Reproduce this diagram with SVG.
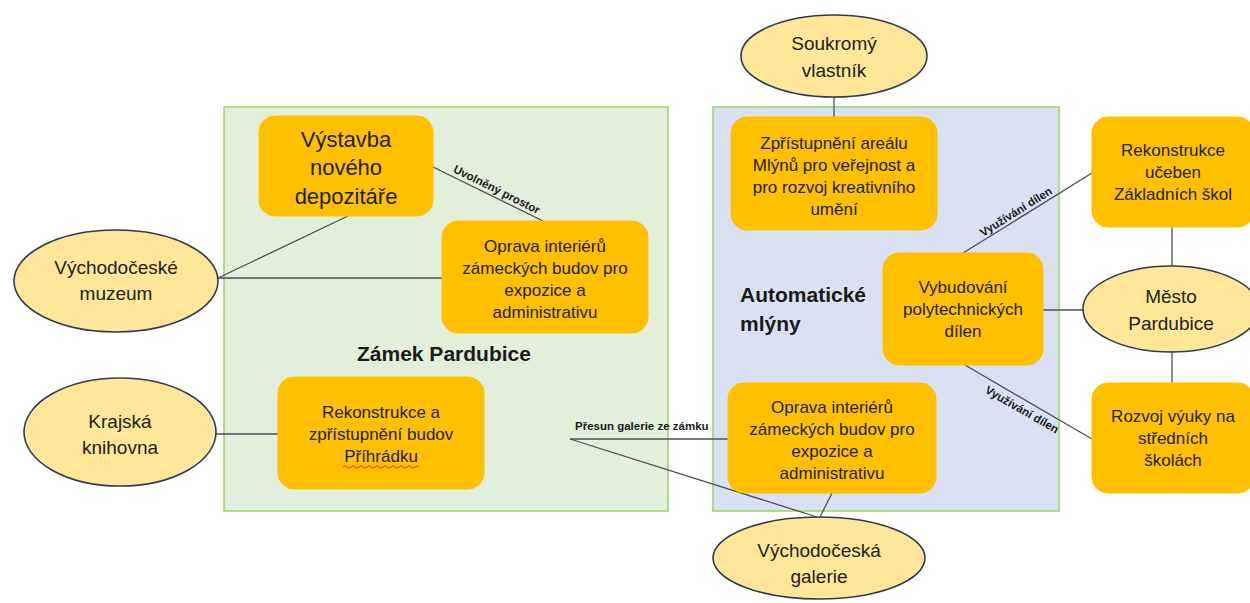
<svg xmlns="http://www.w3.org/2000/svg" width="1250" height="603" viewBox="0 0 1250 603">
<style>
.bg{fill:#ffffff}
.zone-g{fill:#E2EFDA;stroke:#9BD36A;stroke-width:1.5}
.zone-b{fill:#D9E1F2;stroke:#9BD36A;stroke-width:1.5}
.box{fill:#FFC000;stroke:#FFC000;stroke-width:1}
.ell{fill:#FFE699;stroke:#2F3A4F;stroke-width:1.6}
.t{font-family:"Liberation Sans",Arial,sans-serif;font-size:17px;fill:#222222;text-anchor:middle}
.te{font-family:"Liberation Sans",Arial,sans-serif;font-size:19px;fill:#222222;text-anchor:middle}
.tb{font-family:"Liberation Sans",Arial,sans-serif;font-size:22px;fill:#222222;text-anchor:middle}
.title{font-family:"Liberation Sans",Arial,sans-serif;font-size:21px;font-weight:bold;fill:#1a1a1a}
.lbl{font-family:"Liberation Sans",Arial,sans-serif;font-size:11.5px;font-weight:bold;fill:#1a1a1a}
.c{stroke:#4a4f55;stroke-width:1.3;fill:none}
</style>
<rect class="bg" x="0" y="0" width="1250" height="603"/>
<g id="zamek-pardubice">
<rect class="zone-g" x="224" y="107" width="444" height="404"/>
<text class="title" x="357" y="361">Zámek Pardubice</text>
</g>
<g id="automaticke-mlyny">
<rect class="zone-b" x="713" y="107" width="346" height="404"/>
<text class="title" x="740" y="302">Automatické</text>
<text class="title" x="740" y="331">mlýny</text>
</g>
<g id="connectors">
<line class="c" x1="348" y1="216" x2="218" y2="278"/>
<line class="c" x1="218" y1="278" x2="442" y2="278"/>
<line class="c" x1="433" y1="167" x2="543" y2="221"/>
<line class="c" x1="216" y1="434" x2="278" y2="434"/>
<line class="c" x1="570" y1="439" x2="728" y2="439"/>
<line class="c" x1="570" y1="439" x2="817" y2="517"/>
<line class="c" x1="832" y1="493" x2="820" y2="517"/>
<line class="c" x1="834" y1="97" x2="834" y2="117"/>
<line class="c" x1="963" y1="253" x2="1092" y2="173"/>
<line class="c" x1="965" y1="365" x2="1092" y2="439"/>
<line class="c" x1="1043" y1="310" x2="1084" y2="310"/>
<line class="c" x1="1172" y1="227" x2="1172" y2="266"/>
<line class="c" x1="1172" y1="352" x2="1172" y2="383"/>
<text class="lbl" text-anchor="middle" x="495" y="193" transform="rotate(26.6 495 193)">Uvolněný prostor</text>
<text class="lbl" x="575" y="430">Přesun galerie ze zámku</text>
<text class="lbl" text-anchor="middle" x="1018" y="215" transform="rotate(-32 1018 215)">Využívání dílen</text>
<text class="lbl" text-anchor="middle" x="1020" y="413" transform="rotate(30 1020 413)">Využívání dílen</text>
</g>
<g id="vystavba">
<rect class="box" x="259" y="116" width="174" height="100" rx="16"/>
<text class="tb" x="346" y="147">Výstavba</text>
<text class="tb" x="346" y="175">nového</text>
<text class="tb" x="346" y="204">depozitáře</text>
</g>
<g id="oprava-zamek">
<rect class="box" x="442" y="221" width="206" height="112" rx="16"/>
<text class="t" x="545" y="252">Oprava interiérů</text>
<text class="t" x="545" y="274">zámeckých budov pro</text>
<text class="t" x="545" y="296">expozice a</text>
<text class="t" x="545" y="318">administrativu</text>
</g>
<g id="prihradek">
<rect class="box" x="278" y="377" width="206" height="112" rx="16"/>
<text class="t" x="381" y="418">Rekonstrukce a</text>
<text class="t" x="381" y="440">zpřístupnění budov</text>
<text class="t" x="381" y="462">Příhrádku</text>
<path d="M343 467 q2 -2 4 0 t4 0 t4 0 t4 0 t4 0 t4 0 t4 0 t4 0 t4 0 t4 0 t4 0 t4 0 t4 0 t4 0 t4 0 t4 0 t4 0 t4 0 t4 0" fill="none" stroke="#E03030" stroke-width="1"/>
</g>
<g id="zpristupneni">
<rect class="box" x="731" y="117" width="206" height="113" rx="16"/>
<text class="t" x="834" y="149">Zpřístupnění areálu</text>
<text class="t" x="834" y="171">Mlýnů pro veřejnost a</text>
<text class="t" x="834" y="193">pro rozvoj kreativního</text>
<text class="t" x="834" y="215">umění</text>
</g>
<g id="vybudovani">
<rect class="box" x="883" y="253" width="160" height="112" rx="16"/>
<text class="t" x="963" y="293">Vybudování</text>
<text class="t" x="963" y="315">polytechnických</text>
<text class="t" x="963" y="337">dílen</text>
</g>
<g id="oprava-mlyny">
<rect class="box" x="728" y="383" width="208" height="110" rx="16"/>
<text class="t" x="832" y="413">Oprava interiérů</text>
<text class="t" x="832" y="435">zámeckých budov pro</text>
<text class="t" x="832" y="457">expozice a</text>
<text class="t" x="832" y="479">administrativu</text>
</g>
<g id="ucebny-zs">
<rect class="box" x="1092" y="117" width="162" height="110" rx="16"/>
<text class="t" x="1173" y="156">Rekonstrukce</text>
<text class="t" x="1173" y="178">učeben</text>
<text class="t" x="1173" y="200">Základních škol</text>
</g>
<g id="rozvoj-ss">
<rect class="box" x="1092" y="383" width="162" height="110" rx="16"/>
<text class="t" x="1173" y="422">Rozvoj výuky na</text>
<text class="t" x="1173" y="444">středních</text>
<text class="t" x="1173" y="466">školách</text>
</g>
<g id="vychodoceske-muzeum">
<ellipse class="ell" cx="116" cy="281" rx="102" ry="51"/>
<text class="te" x="116" y="274">Východočeské</text>
<text class="te" x="116" y="300">muzeum</text>
</g>
<g id="krajska-knihovna">
<ellipse class="ell" cx="120" cy="432" rx="96" ry="54"/>
<text class="te" x="120" y="428">Krajská</text>
<text class="te" x="120" y="454">knihovna</text>
</g>
<g id="soukromy-vlastnik">
<ellipse class="ell" cx="834" cy="56" rx="93" ry="41"/>
<text class="te" x="834" y="50">Soukromý</text>
<text class="te" x="834" y="77">vlastník</text>
</g>
<g id="mesto-pardubice">
<ellipse class="ell" cx="1171" cy="309" rx="88" ry="43"/>
<text class="te" x="1171" y="303">Město</text>
<text class="te" x="1171" y="330">Pardubice</text>
</g>
<g id="vychodoceska-galerie">
<ellipse class="ell" cx="819" cy="558" rx="106" ry="41"/>
<text class="te" x="819" y="557">Východočeská</text>
<text class="te" x="819" y="583">galerie</text>
</g>
</svg>
